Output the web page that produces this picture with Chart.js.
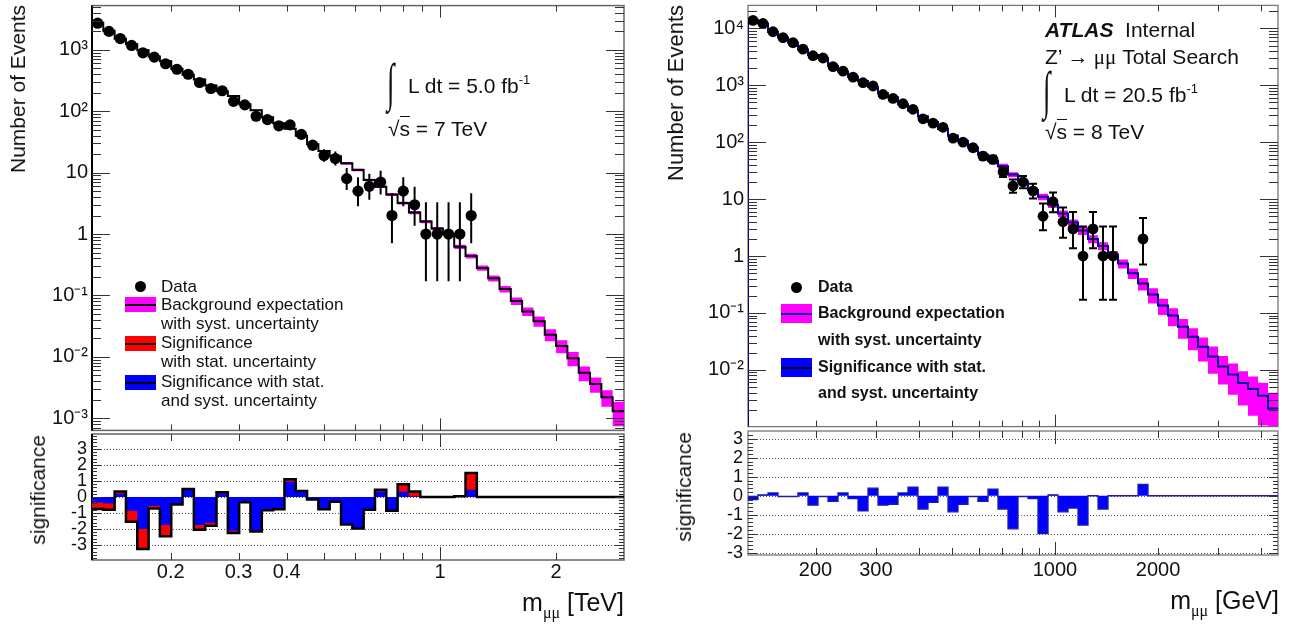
<!DOCTYPE html>
<html lang="en">
<head>
<meta charset="utf-8">
<title>Dimuon invariant mass spectra</title>
<script src="https://cdn.jsdelivr.net/npm/chart.js@4.4.1/dist/chart.umd.min.js"></script>
<style>
  html, body { margin: 0; background: #fff; }
  #page { position: relative; width: 1309px; height: 628px; overflow: hidden;
          font-family: "Liberation Sans", Arial, Helvetica, sans-serif; color: #111; }
  #page canvas { position: absolute; }
  .txt { position: absolute; white-space: nowrap; line-height: 1; }
  .vert { writing-mode: vertical-rl; transform: rotate(180deg); }
  .greek { font-family: "Liberation Serif", "DejaVu Serif", serif; }
  .integral { font-family: "Liberation Serif", serif; transform: scale(0.9, 1.75); transform-origin: 0 0; }
  .over { border-top: 1.5px solid #111; }
  .sup { font-size: 13px; position: relative; top: -9px; }
  .swatch { position: absolute; width: 31px; height: 15px; }
  .swatch::after { content: ""; position: absolute; left: 0; right: 0; top: 50%; height: 2px; margin-top: -1px; background: var(--line, #000); }
  .dot { position: absolute; border-radius: 50%; background: #000; }
  .bold { font-weight: bold; }
</style>
</head>
<body>
<div id="page">
  <canvas id="leftMain" width="640" height="436" style="left:0;top:0"></canvas>
  <canvas id="leftSig" width="640" height="195" style="left:0;top:433px"></canvas>
  <canvas id="rightMain" width="654" height="432" style="left:655px;top:0"></canvas>
  <canvas id="rightSig" width="654" height="198" style="left:655px;top:430px"></canvas>

  <!-- 7 TeV panel -->
  <div class="txt vert" style="left:7px;top:5px;font-size:21px">Number of Events</div>
  <div class="txt vert" style="left:27px;top:435px;font-size:21px">significance</div>
  <div class="txt" style="right:685px;top:590px;font-size:25px">m<span class="greek" style="font-size:16px;position:relative;top:7px">μμ</span> [TeV]</div>

  <div class="txt integral" style="left:387px;top:56px;font-size:30px">∫</div>
  <div class="txt" style="left:408px;top:75px;font-size:21px">L dt = 5.0 fb<span class="sup">-1</span></div>
  <div class="txt" style="left:388px;top:118px;font-size:21px">√<span class="over">s</span> = 7 TeV</div>

  <div class="dot" style="left:135px;top:281px;width:11px;height:11px"></div>
  <div class="txt" style="left:161px;top:278px;font-size:17px">Data</div>
  <div class="swatch" style="left:125px;top:297px;background:#f0f"></div>
  <div class="txt" style="left:161px;top:296px;font-size:17px">Background expectation</div>
  <div class="txt" style="left:161px;top:315px;font-size:17px">with syst. uncertainty</div>
  <div class="swatch" style="left:125px;top:336px;background:#f00"></div>
  <div class="txt" style="left:161px;top:334px;font-size:17px">Significance</div>
  <div class="txt" style="left:161px;top:353px;font-size:17px">with stat. uncertainty</div>
  <div class="swatch" style="left:125px;top:375px;background:#00f"></div>
  <div class="txt" style="left:161px;top:373px;font-size:17px">Significance with stat.</div>
  <div class="txt" style="left:161px;top:392px;font-size:17px">and syst. uncertainty</div>

  <!-- 8 TeV panel -->
  <div class="txt vert" style="left:665px;top:5px;font-size:22px">Number of Events</div>
  <div class="txt vert" style="left:673px;top:432px;font-size:21px">significance</div>
  <div class="txt" style="right:30px;top:588px;font-size:25px">m<span class="greek" style="font-size:16px;position:relative;top:7px">μμ</span> [GeV]</div>

  <div class="txt" style="left:1045px;top:19px;font-size:21px"><span class="bold" style="font-style:italic">ATLAS</span>&nbsp; Internal</div>
  <div class="txt" style="left:1045px;top:46px;font-size:21px">Z’ <span class="greek">→ μμ</span> Total Search</div>
  <div class="txt integral" style="left:1043px;top:64px;font-size:30px">∫</div>
  <div class="txt" style="left:1064px;top:84px;font-size:21px">L dt = 20.5 fb<span class="sup">-1</span></div>
  <div class="txt" style="left:1045px;top:121px;font-size:21px">√<span class="over">s</span> = 8 TeV</div>

  <div class="dot" style="left:791px;top:282px;width:11px;height:11px"></div>
  <div class="txt bold" style="left:818px;top:279px;font-size:16px">Data</div>
  <div class="swatch" style="left:781px;top:304px;height:19px;background:#f0f;--line:#000090"></div>
  <div class="txt bold" style="left:818px;top:305px;font-size:16px">Background expectation</div>
  <div class="txt bold" style="left:818px;top:332px;font-size:16px">with syst. uncertainty</div>
  <div class="swatch" style="left:781px;top:358px;height:19px;background:#00f"></div>
  <div class="txt bold" style="left:818px;top:359px;font-size:16px">Significance with stat.</div>
  <div class="txt bold" style="left:818px;top:385px;font-size:16px">and syst. uncertainty</div>
</div>

<script>
const FONT = '"Liberation Sans", Arial, Helvetica, sans-serif';

// ---- 7 TeV, 5.0 fb-1 : bin edges in TeV
const leftEdges = [0.1250, 0.1337, 0.1431, 0.1531, 0.1638, 0.1753, 0.1875, 0.2007, 0.2147, 0.2297,
  0.2458, 0.2630, 0.2814, 0.3011, 0.3221, 0.3447, 0.3688, 0.3946, 0.4222, 0.4517,
  0.4833, 0.5171, 0.5533, 0.5920, 0.6334, 0.6777, 0.7251, 0.7758, 0.8301, 0.8882,
  0.9503, 1.0168, 1.0879, 1.1640, 1.2455, 1.3326, 1.4258, 1.5255, 1.6323, 1.7464,
  1.8686, 1.9993, 2.1392, 2.2889, 2.4490, 2.6203, 2.8036, 2.9997];
const leftCounts = [2720, 2000, 1530, 1180, 895, 762, 594, 483, 401, 294,
  235, 216, 145, 127, 83, 73, 58, 60, 42, 28,
  19, 17, 8, 5, 6, 7, 2, 5, 3, 1,
  1, 1, 1, 2];
const leftErrLo = [2668, 1955, 1491, 1146, 865, 734, 570, 461, 381, 277,
  220, 201, 133, 116, 74, 64.5, 50.4, 52.3, 35.5, 22.7,
  15.0, 13.1, 5.23, 2.84, 3.62, 4.42, 0.71, 2.84, 1.37, 0.17,
  0.17, 0.17, 0.17, 0.71];
const leftErrHi = [2772, 2045, 1569, 1214, 925, 790, 618, 505, 421, 311,
  250, 231, 157, 138, 92, 81.5, 65.6, 67.7, 48.5, 33.3,
  24.0, 22.1, 11.95, 8.38, 9.58, 10.77, 4.64, 8.38, 5.92, 3.30,
  3.30, 3.30, 3.30, 4.64];
const leftBkg = [2760, 2040, 1515, 1235, 990, 782, 655, 493, 392, 330,
  263, 212, 178, 130, 104, 80, 64, 52, 40, 29,
  22.5, 18.5, 14.2, 11.1, 7.6, 5.9, 4.4, 3.2, 2.24, 1.6,
  1.23, 1.0, 0.62, 0.44, 0.28, 0.19, 0.127, 0.081, 0.055, 0.038,
  0.023, 0.015, 0.0095, 0.0055, 0.0036, 0.0022, 0.0013];
// relative systematic uncertainty on the background, per bin
const leftSyst = [0.03, 0.03, 0.03, 0.03, 0.03, 0.03, 0.03, 0.03, 0.03, 0.03,
  0.03, 0.03, 0.03, 0.03, 0.03, 0.03, 0.03, 0.03, 0.03, 0.03,
  0.03, 0.03, 0.05, 0.05, 0.05, 0.05, 0.05, 0.05, 0.06, 0.06,
  0.06, 0.06, 0.08, 0.09, 0.10, 0.11, 0.12, 0.14, 0.16, 0.19,
  0.22, 0.24, 0.26, 0.27, 0.28, 0.30, 0.43];
const leftSigStat = [-0.75, -0.8, 0.35, -1.55, -3.25, -0.72, -2.45, -0.47, 0.5, -2.05,
  -1.8, 0.3, -2.25, -0.32, -2.15, -0.82, -0.77, 1.1, 0.37, -0.15,
  -0.76, -0.3, -1.72, -1.97, -0.8, 0.45, -0.86, 0.8, 0.35, 0,
  0, 0, 0.05, 1.5, 0, 0, 0, 0, 0, 0,
  0, 0, 0, 0, 0, 0, 0];
const leftSigTot = [-0.35, -0.4, 0.2, -0.85, -2.0, -0.55, -1.75, -0.42, 0.48, -1.75,
  -1.6, 0.2, -2.1, -0.3, -2.1, -0.8, -0.75, 0.95, 0.35, -0.15,
  -0.75, -0.3, -1.7, -1.95, -0.8, 0.35, -0.85, 0.35, 0.05, 0,
  0, 0, 0.05, 0.45, 0, 0, 0, 0, 0, 0,
  0, 0, 0, 0, 0, 0, 0];
const leftYTickVals = [1e-3, 1e-2, 1e-1, 1, 10, 100, 1000];
const leftYTickText = ['10⁻³', '10⁻²', '10⁻¹', '1', '10', '10²', '10³'];
const leftXTickVals = [0.2, 0.3, 0.4, 1, 2];
const leftXTickText = ['0.2', '0.3', '0.4', '1', '2'];

// ---- 8 TeV, 20.5 fb-1 : bin edges in GeV
const rightEdges = [127.0, 135.8, 145.3, 155.4, 166.2, 177.7, 190.1, 203.3, 217.5, 232.6,
  248.8, 266.1, 284.6, 304.4, 325.5, 348.2, 372.4, 398.3, 426.0, 455.6,
  487.3, 521.2, 557.4, 596.2, 637.7, 682.0, 729.5, 780.2, 834.4, 892.5,
  954.6, 1020.9, 1091.9, 1167.9, 1249.1, 1336.0, 1428.9, 1528.3, 1634.5, 1748.2,
  1869.8, 1999.9, 2138.9, 2287.7, 2446.8, 2617.0, 2799.0, 2993.6, 3201.8, 3424.5,
  3662.7, 3917.4, 4189.8, 4481.2];
const rightCounts = [13800, 12200, 8730, 6870, 5630, 4320, 3310, 3020, 2130, 1770,
  1390, 1110, 972, 690, 588, 474, 379, 258, 217, 183,
  118, 100, 80, 57, 50, 30, 17, 20, 14, 5,
  9, 4, 3, 1, 3, 1, 1, null, null, 2];
const rightErrLo = [13683, 12090, 8637, 6787, 5555, 4254, 3252, 2965, 2084, 1728,
  1353, 1077, 941, 664, 564, 452, 360, 242, 202.3, 169.5,
  107.1, 90, 71.1, 49.5, 42.9, 24.5, 12.9, 15.5, 10.3, 2.84,
  5.9, 2.09, 1.37, 0.17, 1.37, 0.17, 0.17, null, null, 0.71];
const rightErrHi = [13917, 12310, 8823, 6953, 5705, 4386, 3368, 3075, 2176, 1812,
  1427, 1143, 1003, 716, 612, 496, 398, 274, 231.7, 196.5,
  129.9, 111, 89.9, 65.5, 58.1, 36.5, 22.1, 25.6, 18.7, 8.38,
  13.1, 7.16, 5.92, 3.30, 5.92, 3.30, 3.30, null, null, 4.64];
const rightBkg = [14000, 12150, 8650, 6900, 5650, 4270, 3420, 3030, 2180, 1750,
  1410, 1190, 935, 725, 615, 466, 360, 282, 226, 171,
  130, 105, 81, 60, 47, 38, 27, 20.5, 14.5, 11,
  8, 5.6, 3.9, 2.8, 2.0, 1.5, 1.06, 0.74, 0.5, 0.33,
  0.21, 0.135, 0.09, 0.057, 0.038, 0.0255, 0.0171, 0.0115, 0.0083, 0.0059,
  0.0046, 0.0035, 0.0021];
const rightSyst = [0.035, 0.035, 0.035, 0.035, 0.035, 0.035, 0.035, 0.035, 0.035, 0.035,
  0.045, 0.045, 0.045, 0.045, 0.045, 0.045, 0.06, 0.06, 0.06, 0.06,
  0.06, 0.08, 0.08, 0.08, 0.08, 0.10, 0.10, 0.10, 0.10, 0.13,
  0.13, 0.13, 0.13, 0.16, 0.16, 0.16, 0.16, 0.18, 0.21, 0.25,
  0.30, 0.32, 0.35, 0.38, 0.42, 0.45, 0.50, 0.52, 0.56, 0.60,
  0.66, 0.70, 0.89];
const rightSig = [-0.2, 0.05, 0.15, -0.05, -0.05, 0.15, -0.5, -0.05, -0.3, 0.15,
  -0.15, -0.8, 0.4, -0.5, -0.45, 0.15, 0.45, -0.7, -0.35, 0.45,
  -0.85, -0.45, -0.05, -0.3, 0.35, -0.7, -1.75, -0.05, -0.15, -2.0,
  0.05, -0.85, -0.65, -1.55, 0, -0.7, 0, 0, 0, 0.6,
  0, 0, 0, 0, 0, 0, 0, 0, 0, 0,
  0, 0, 0];
const rightYTickVals = [1e-2, 1e-1, 1, 10, 100, 1000, 1e4];
const rightYTickText = ['10⁻²', '10⁻¹', '1', '10', '10²', '10³', '10⁴'];
const rightXTickVals = [200, 300, 1000, 2000];
const rightXTickText = ['200', '300', '1000', '2000'];

const sigTickVals = [-3, -2, -1, 0, 1, 2, 3];
const sigTickText = ['-3', '-2', '-1', '0', '1', '2', '3'];

// ---- helpers
function stepPoints(edges, vals, floor) {
  const pts = [];
  if (floor !== undefined) pts.push({ x: edges[0], y: floor });
  vals.forEach((v, i) => pts.push({ x: edges[i], y: v }));
  pts.push({ x: edges[edges.length - 1], y: vals[vals.length - 1] });
  return pts;
}

function dataPoints(edges, counts, lo, hi) {
  const pts = [];
  counts.forEach((n, i) => {
    if (n === null) return;
    pts.push({ x: Math.sqrt(edges[i] * edges[i + 1]), y: n, lo: lo[i], hi: hi[i] });
  });
  return pts;
}

function logTicks(axis) {
  const ticks = [];
  const e0 = Math.floor(Math.log10(axis.min)), e1 = Math.ceil(Math.log10(axis.max));
  for (let e = e0; e <= e1; e++) {
    for (let m = 1; m <= 9; m++) {
      const v = m * Math.pow(10, e);
      if (v >= axis.min * 0.9999 && v <= axis.max * 1.0001) ticks.push({ value: v, big: m === 1 });
    }
  }
  axis.ticks = ticks;
}

function sigTicks(axis) {
  const ticks = [];
  for (let k = Math.ceil(axis.min * 5); k <= Math.floor(axis.max * 5); k++) {
    ticks.push({ value: k / 5, big: k % 5 === 0 });
  }
  axis.ticks = ticks;
}

function labeler(vals, texts) {
  return value => {
    const i = vals.findIndex(v => Math.abs(value - v) <= 1e-6 * Math.max(1e-9, Math.abs(v)));
    return i < 0 ? '' : texts[i];
  };
}

// frame, inner tick marks, dotted grid and error bars in the ROOT style
function makeFrame(cfg) {
  const seg = (ctx, x1, y1, x2, y2) => { ctx.beginPath(); ctx.moveTo(x1, y1); ctx.lineTo(x2, y2); ctx.stroke(); };
  return {
    id: 'rootFrame',
    beforeDatasetsDraw(chart) {
      const { ctx, chartArea: a, scales: { y } } = chart;
      ctx.save();
      if (cfg.grid) {
        ctx.strokeStyle = '#555';
        ctx.lineWidth = 1;
        ctx.setLineDash([1, 2]);
        cfg.grid.forEach(v => {
          const py = Math.round(y.getPixelForValue(v)) + 0.5;
          seg(ctx, a.left, py, a.right, py);
        });
        ctx.setLineDash([]);
      }
      ctx.strokeStyle = cfg.frameColor;
      ctx.lineWidth = cfg.frameWidth;
      ctx.strokeRect(a.left, a.top, a.right - a.left, a.bottom - a.top);
      if (cfg.axisColor) {
        ctx.strokeStyle = cfg.axisColor;
        ctx.lineWidth = 2;
        seg(ctx, a.left, a.top, a.left, a.bottom);
      }
      ctx.restore();
    },
    afterDatasetsDraw(chart) {
      const { ctx, chartArea: a, scales: { x, y } } = chart;
      ctx.save();
      if (cfg.errors) {
        ctx.save();
        ctx.beginPath();
        ctx.rect(a.left, a.top, a.right - a.left, a.bottom - a.top);
        ctx.clip();
        ctx.strokeStyle = '#000';
        ctx.lineWidth = 2;
        const raw = chart.data.datasets[0].data;
        chart.getDatasetMeta(0).data.forEach((el, i) => {
          const d = raw[i];
          if (d.lo == null) return;
          const y1 = y.getPixelForValue(d.lo), y2 = y.getPixelForValue(d.hi);
          seg(ctx, el.x, y1, el.x, y2);
          if (cfg.cap) {
            seg(ctx, el.x - cfg.cap, y1, el.x + cfg.cap, y1);
            seg(ctx, el.x - cfg.cap, y2, el.x + cfg.cap, y2);
          }
        });
        ctx.restore();
      }
      ctx.strokeStyle = '#333';
      ctx.lineWidth = 1;
      x.ticks.forEach(t => {
        const px = Math.round(x.getPixelForValue(t.value)) + 0.5;
        if (px <= a.left + 1 || px >= a.right - 1) return;
        const len = t.big ? cfg.xBig : cfg.xSmall;
        seg(ctx, px, a.bottom, px, a.bottom - len);
        seg(ctx, px, a.top, px, a.top + len);
      });
      y.ticks.forEach(t => {
        const py = Math.round(y.getPixelForValue(t.value)) + 0.5;
        if (py <= a.top + 1 || py >= a.bottom - 1) return;
        const len = t.big ? cfg.yBig : cfg.ySmall;
        seg(ctx, a.left, py, a.left + len, py);
        seg(ctx, a.right, py, a.right - len, py);
      });
      ctx.restore();
    }
  };
}

function baseOptions(p) {
  return {
    responsive: false,
    animation: false,
    devicePixelRatio: 1,
    events: [],
    layout: { padding: p.padding },
    plugins: { legend: { display: false }, tooltip: { enabled: false } },
    elements: { point: { radius: 0 } },
    scales: {
      x: {
        type: 'logarithmic', min: p.xMin, max: p.xMax, bounds: 'data',
        grid: { display: false, drawTicks: false }, border: { display: false },
        ticks: {
          display: !!p.xLabels, autoSkip: false, maxRotation: 0, padding: p.xPad || 0,
          color: '#111', font: { family: FONT, size: 20 },
          callback: p.xLabels ? labeler(p.xLabels[0], p.xLabels[1]) : undefined
        },
        afterBuildTicks: logTicks,
        afterFit: s => { s.height = p.xHeight; s.paddingLeft = 0; s.paddingRight = 0; }
      },
      y: {
        type: p.yType, min: p.yMin, max: p.yMax, bounds: 'data',
        grid: { display: false, drawTicks: false }, border: { display: false },
        ticks: {
          autoSkip: false, padding: p.yPad, color: '#111',
          font: { family: FONT, size: p.yFont },
          callback: labeler(p.yLabels[0], p.yLabels[1])
        },
        afterBuildTicks: p.yType === 'logarithmic' ? logTicks : sigTicks,
        afterFit: s => { s.width = p.yWidth; s.paddingTop = 0; s.paddingBottom = 0; }
      }
    }
  };
}

function spectrumChart(id, s) {
  const up = s.bkg.map((b, i) => b * (1 + s.syst[i]));
  const down = s.bkg.map((b, i) => b * (1 - s.syst[i]));
  return new Chart(document.getElementById(id), {
    type: 'line',
    data: {
      datasets: [
        { label: 'Data', data: dataPoints(s.edges, s.counts, s.errLo, s.errHi),
          showLine: false, pointRadius: s.marker, pointBackgroundColor: '#000',
          pointBorderColor: '#000', pointBorderWidth: 0, order: 0 },
        { label: 'Background', data: stepPoints(s.edges, s.bkg, 1e-6), stepped: true,
          borderColor: s.lineColor, borderWidth: 2, fill: false, order: 1 },
        { label: 'syst up', data: stepPoints(s.edges, up), stepped: true,
          borderColor: 'transparent', borderWidth: 0, fill: false, order: 3 },
        { label: 'syst down', data: stepPoints(s.edges, down), stepped: true,
          borderColor: 'transparent', borderWidth: 0, fill: '-1',
          backgroundColor: '#ff00ff', order: 2 }
      ]
    },
    options: baseOptions(s.opts),
    plugins: [makeFrame(s.frame)]
  });
}

// ---- 7 TeV spectrum
spectrumChart('leftMain', {
  edges: leftEdges, counts: leftCounts, errLo: leftErrLo, errHi: leftErrHi,
  bkg: leftBkg, syst: leftSyst, marker: 5.6, lineColor: '#000',
  opts: { padding: { top: 4, right: 16, bottom: 3, left: 0 },
          xMin: leftEdges[0], xMax: leftEdges[leftEdges.length - 1], xHeight: 0,
          yType: 'logarithmic', yMin: 6.34e-4, yMax: 5260, yWidth: 92, yPad: 4, yFont: 20,
          yLabels: [leftYTickVals, leftYTickText] },
  frame: { frameColor: '#666', frameWidth: 1.5, axisColor: '#000', errors: true, cap: 0,
           xBig: 12, xSmall: 6, yBig: 18, ySmall: 9 }
});

new Chart(document.getElementById('leftSig'), {
  type: 'line',
  data: {
    datasets: [
      { label: 'outline', data: stepPoints(leftEdges, leftSigStat), stepped: true,
        borderColor: '#000', borderWidth: 2.5, fill: false, order: 0 },
      { label: 'stat. + syst.', data: stepPoints(leftEdges, leftSigTot), stepped: true,
        borderColor: 'transparent', borderWidth: 0, fill: 'origin', backgroundColor: '#0000ff', order: 1 },
      { label: 'stat.', data: stepPoints(leftEdges, leftSigStat), stepped: true,
        borderColor: 'transparent', borderWidth: 0, fill: 'origin', backgroundColor: '#ff0000', order: 2 }
    ]
  },
  options: baseOptions({
    padding: { top: 1, right: 16, bottom: 0, left: 0 },
    xMin: leftEdges[0], xMax: leftEdges[leftEdges.length - 1], xHeight: 68, xPad: 0,
    xLabels: [leftXTickVals, leftXTickText],
    yType: 'linear', yMin: -3.93, yMax: 3.93, yWidth: 92, yPad: 5, yFont: 18,
    yLabels: [sigTickVals, sigTickText]
  }),
  plugins: [makeFrame({ frameColor: '#666', frameWidth: 1.5, axisColor: '#000', grid: sigTickVals,
                        xBig: 13, xSmall: 7, yBig: 9, ySmall: 5 })]
});

// ---- 8 TeV spectrum
spectrumChart('rightMain', {
  edges: rightEdges, counts: rightCounts, errLo: rightErrLo, errHi: rightErrHi,
  bkg: rightBkg, syst: rightSyst, marker: 5.4, lineColor: '#000090',
  opts: { padding: { top: 4, right: 31, bottom: 1, left: 0 },
          xMin: rightEdges[0], xMax: rightEdges[rightEdges.length - 1], xHeight: 0,
          yType: 'logarithmic', yMin: 1.007e-3, yMax: 25350, yWidth: 93, yPad: 4, yFont: 20,
          yLabels: [rightYTickVals, rightYTickText] },
  frame: { frameColor: '#777', frameWidth: 1.3, errors: true, cap: 4,
           xBig: 12, xSmall: 6, yBig: 18, ySmall: 9 }
});

new Chart(document.getElementById('rightSig'), {
  type: 'line',
  data: {
    datasets: [
      { label: 'stat. + syst.', data: stepPoints(rightEdges, rightSig), stepped: true,
        borderColor: '#1c1ca8', borderWidth: 1.3, fill: 'origin', backgroundColor: '#0000ff' }
    ]
  },
  options: baseOptions({
    padding: { top: 1, right: 31, bottom: 0, left: 0 },
    xMin: rightEdges[0], xMax: rightEdges[rightEdges.length - 1], xHeight: 73, xPad: 3,
    xLabels: [rightXTickVals, rightXTickText],
    yType: 'linear', yMin: -3.13, yMax: 3.42, yWidth: 93, yPad: 5, yFont: 18,
    yLabels: [sigTickVals, sigTickText]
  }),
  plugins: [makeFrame({ frameColor: '#777', frameWidth: 1.3, grid: sigTickVals,
                        xBig: 13, xSmall: 7, yBig: 9, ySmall: 5 })]
});
</script>
</body>
</html>
